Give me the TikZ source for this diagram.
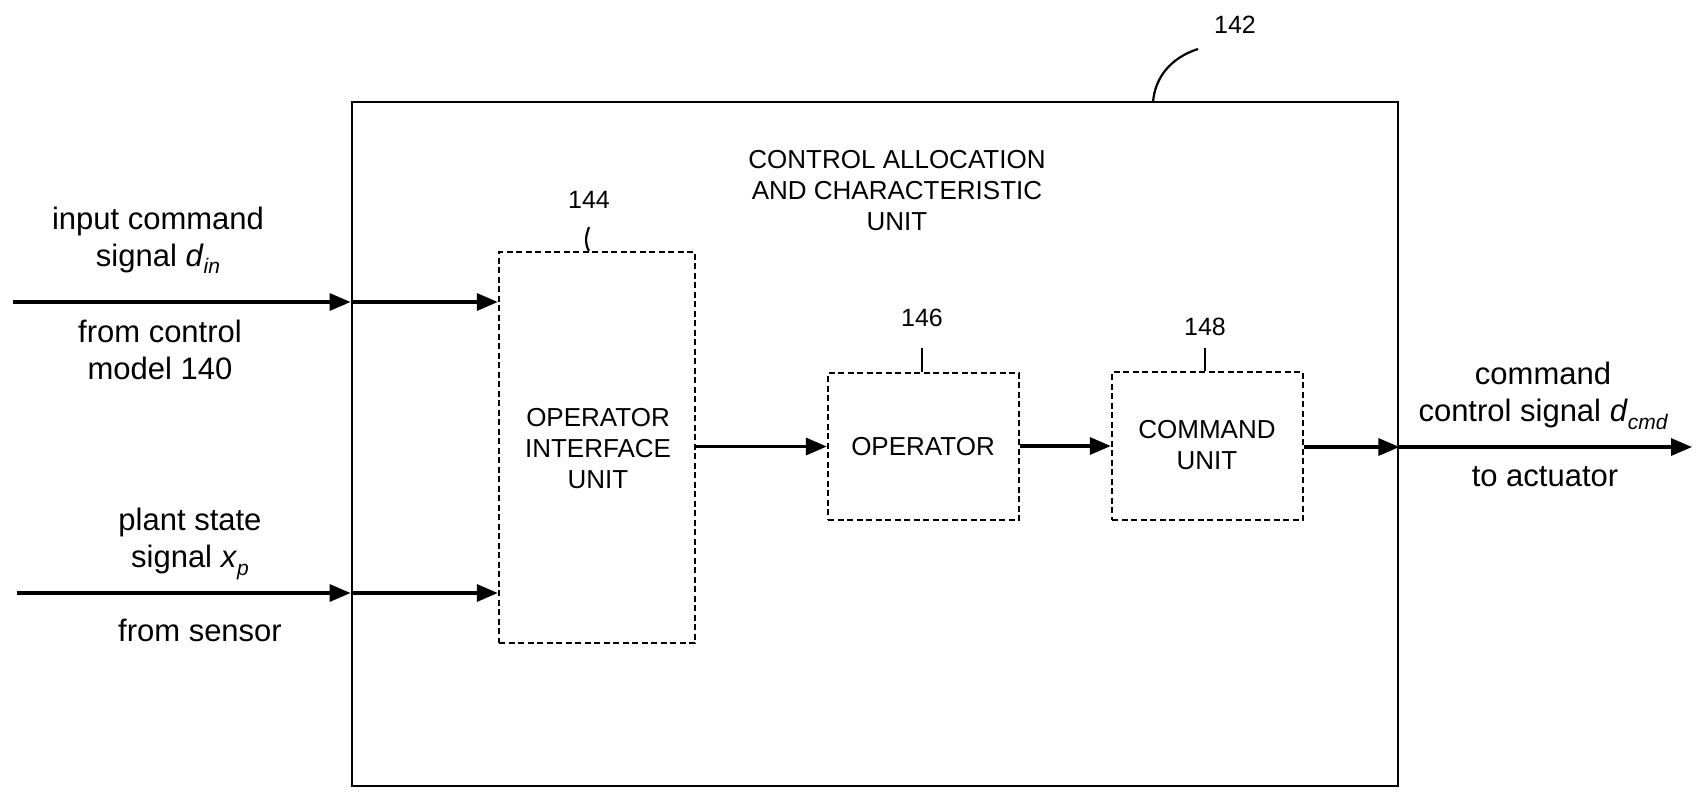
\documentclass[tikz,border=0pt]{standalone}
\usepackage{fontspec}
\setmainfont{Liberation Sans}
\usetikzlibrary{arrows.meta,calc}
\newcommand{\sigsub}[1]{\raisebox{-0.45ex}{\fontsize{21}{21}\selectfont\itshape #1}}
\begin{document}
\begin{tikzpicture}[x=1pt,y=-1pt,
  boxlbl/.style={font=\fontsize{26}{31}\selectfont, align=center},
  sidelbl/.style={font=\fontsize{31}{37}\selectfont, align=center},
  numlbl/.style={font=\fontsize{25}{28}\selectfont},
  outerbox/.style={draw, line width=2.8pt, inner sep=0pt},
  dbox/.style={draw, dashed, dash pattern=on 6pt off 3.5pt, line width=2.3pt, inner sep=0pt},
  arr/.style={line width=3.3pt, -{Triangle[length=21pt,width=17pt]}},
  leader/.style={line width=2.2pt}]
\useasboundingbox (0,0) rectangle (1702,793);
% outer unit
\node[outerbox, minimum width=1046pt, minimum height=684pt] (cau) at (875,444) {};
\node[boxlbl] (title) at (897,191) {CONTROL ALLOCATION\\AND CHARACTERISTIC\\UNIT};
% inner units
\node[dbox, minimum width=196pt, minimum height=391pt] (oiu) at (597,447.5) {};
\node[boxlbl] (oiut) at (598,449) {OPERATOR\\INTERFACE\\UNIT};
\node[dbox, minimum width=191pt, minimum height=147pt] (op) at (923.5,446.5) {};
\node[boxlbl] (opt) at (923,447) {OPERATOR};
\node[dbox, minimum width=191pt, minimum height=148pt] (cmd) at (1207.5,446) {};
\node[boxlbl] (cmdt) at (1207,445) {COMMAND\\UNIT};
% reference numerals
\node[numlbl] (n142) at (1235,25) {142};
\node[numlbl] (n144) at (589,200) {144};
\node[numlbl] (n146) at (922,318) {146};
\node[numlbl] (n148) at (1205,327) {148};
\coordinate (c142a) at (1198,49);
\coordinate (c142b) at (1153,102);
\draw[leader] (c142a) .. controls (1170,58) and (1155,78) .. (c142b);
\coordinate (c144) at (589,227);
\draw[leader] (c144) .. controls (585,238) and (585,244) .. (c144 |- oiu.north);
\coordinate (c146) at (922,348);
\draw[leader] (c146) -- (c146 |- op.north);
\coordinate (c148) at (1205,348);
\draw[leader] (c148) -- (c148 |- cmd.north);
% inputs
\coordinate (inA) at (13,302);
\coordinate (inB) at (17,593);
\draw[arr] (inA) -- (inA -| cau.west);
\draw[arr] (inA -| cau.west) -- (inA -| oiu.west);
\draw[arr] (inB) -- (inB -| cau.west);
\draw[arr] (inB -| cau.west) -- (inB -| oiu.west);
% internal flow
\draw[arr] (oiu.east |- op.west) -- (op.west);
\draw[arr] (op.east |- cmd.west) -- (cmd.west);
% output
\coordinate (outR) at (1692,447);
\draw[arr] (cmd.east |- outR) -- (cau.east |- outR);
\draw[arr] (cau.east |- outR) -- (outR);
% side labels
\node[sidelbl] (inAt) at (158,240) {input command\\signal \textit{d}\sigsub{in}};
\node[sidelbl] (inAb) at (160,350) {from control\\model 140};
\node[sidelbl] (inBt) at (190,544) {plant state\\signal \textit{x}\sigsub{p}};
\node[sidelbl] (inBb) at (200,630) {from sensor};
\node[sidelbl] (outt) at (1543,396) {command\\control signal \textit{d}\sigsub{cmd}};
\node[sidelbl] (outb) at (1545,477) {to actuator};
\end{tikzpicture}
\end{document}
